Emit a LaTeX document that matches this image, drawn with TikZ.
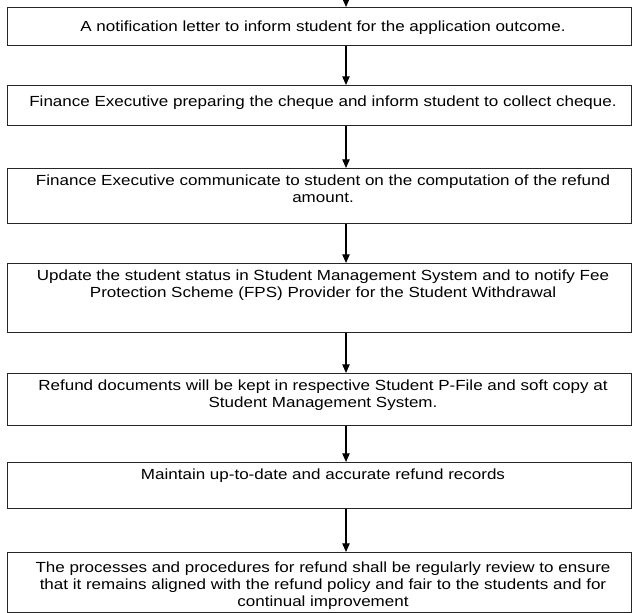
\documentclass[tikz,border=0pt]{standalone}
\usepackage{fontspec}
\setmainfont{Liberation Sans}[FakeStretch=1.16]
\usetikzlibrary{arrows.meta}

\begin{document}
\begin{tikzpicture}[x=0.75pt, y=-0.75pt,
    stepbox/.style = {shape=rectangle, draw=black!85, line width=0.75pt,
      anchor=north, minimum width=468pt, inner sep=0pt},
    steptext/.style = {anchor=north, align=center, inner sep=0pt, xshift=3pt,
      font=\fontsize{11}{12.75}\selectfont},
    flow/.style = {draw=black, line width=0.9pt,
      -{Triangle[length=6.5pt, width=5.5pt]}}]
    \useasboundingbox (0,0) rectangle (632,613);
    \coordinate (ax) at (346,0);

    % boxes
    \node[stepbox, minimum height=28.5pt] (b1) at (319,7) {};
    \node[stepbox, minimum height=30pt] (b2) at (319,85) {};
    \node[stepbox, minimum height=41.25pt] (b3) at (319,168) {};
    \node[stepbox, minimum height=51.75pt] (b4) at (319,263) {};
    \node[stepbox, minimum height=39pt] (b5) at (319,373) {};
    \node[stepbox, minimum height=34.5pt] (b6) at (319,462) {};
    \node[stepbox, minimum height=45pt] (b7) at (319,552) {};

    % texts
    \node[steptext, yshift=-10pt] (t1) at (b1.north)
      {A notification letter to inform student for the application outcome.};
    \node[steptext, yshift=-8pt] (t2) at (b2.north)
      {Finance Executive preparing the cheque and inform student to collect cheque.};
    \node[steptext, yshift=-5pt] (t3) at (b3.north)
      {Finance Executive communicate to student on the computation of the refund\\
       amount.};
    \node[steptext, yshift=-5pt] (t4) at (b4.north)
      {Update the student status in Student Management System and to notify Fee\\
       Protection Scheme (FPS) Provider for the Student Withdrawal};
    \node[steptext, yshift=-5pt] (t5) at (b5.north)
      {Refund documents will be kept in respective Student P-File and soft copy at\\
       Student Management System.};
    \node[steptext, yshift=-5pt] (t6) at (b6.north)
      {Maintain up-to-date and accurate refund records};
    \node[steptext, yshift=-7.25pt] (t7) at (b7.north)
      {The processes and procedures for refund shall be regularly review to ensure\\
       that it remains aligned with the refund policy and fair to the students and for\\
       continual improvement};

    % arrows
    \draw[flow] (ax) -- (b1.north -| ax);
    \draw[flow] (b1.south -| ax) -- (b2.north -| ax);
    \draw[flow] (b2.south -| ax) -- (b3.north -| ax);
    \draw[flow] (b3.south -| ax) -- (b4.north -| ax);
    \draw[flow] (b4.south -| ax) -- (b5.north -| ax);
    \draw[flow] (b5.south -| ax) -- (b6.north -| ax);
    \draw[flow] (b6.south -| ax) -- (b7.north -| ax);
\end{tikzpicture}
\end{document}
